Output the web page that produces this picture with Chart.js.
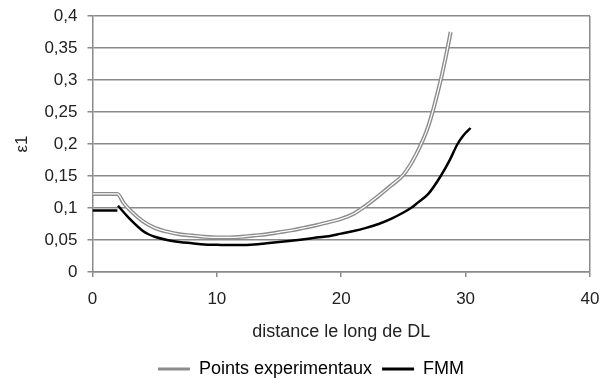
<!DOCTYPE html>
<html>
<head>
<meta charset="utf-8">
<script src="https://cdn.jsdelivr.net/npm/chart.js@4.4.0/dist/chart.umd.min.js"></script>
<style>
  html, body { margin: 0; padding: 0; background: #ffffff; }
  #wrap { width: 610px; height: 378px; }
</style>
</head>
<body>
<div id="wrap"><canvas id="c" width="610" height="378"></canvas></div>
<script>
const seriesNames = ["Points experimentaux", "FMM"];
const expX = [0, 2, 2.5, 3, 4, 5, 6, 7, 8, 9, 10, 11, 12, 13, 14, 15, 16, 17, 18, 19, 20, 21, 22, 23, 24, 25, 26, 27, 28, 28.5, 28.8];
const expY = [0.122, 0.122, 0.108, 0.097, 0.080, 0.069, 0.063, 0.059, 0.057, 0.055, 0.054, 0.054, 0.055, 0.057, 0.059, 0.062, 0.065, 0.069, 0.073, 0.078, 0.083, 0.091, 0.104, 0.119, 0.135, 0.152, 0.183, 0.228, 0.300, 0.345, 0.375];
const fmmX = [0, 2, 2, 2.05, 3, 4, 4.5, 5, 6, 7, 8, 9, 10, 11, 12, 13, 14, 15, 16, 17, 18, 19, 20, 21, 22, 23, 24, 25, 25.6, 26, 27, 28, 28.7, 29.35, 29.8, 30.4];
const fmmY = [0.096, 0.096, null, 0.1035, 0.083, 0.065, 0.059, 0.055, 0.050, 0.047, 0.045, 0.043, 0.0425, 0.042, 0.042, 0.043, 0.045, 0.047, 0.049, 0.051, 0.054, 0.056, 0.060, 0.064, 0.069, 0.075, 0.083, 0.093, 0.100, 0.106, 0.122, 0.150, 0.174, 0.200, 0.213, 0.225];
const xTicks = [0, 10, 20, 30, 40];
const yTicks = [0, 0.05, 0.1, 0.15, 0.2, 0.25, 0.3, 0.35, 0.4];

const toPts = (xs, ys) => xs.map((x, i) => ({ x: x, y: ys[i] }));
const GRID = '#8a8a8a';
const FONT = "'Liberation Sans', Arial, sans-serif";

new Chart(document.getElementById('c'), {
  type: 'line',
  data: {
    datasets: [
      { label: seriesNames[0] + '_inner', data: toPts(expX, expY), borderColor: '#ffffff', borderWidth: 1.2, pointRadius: 0, cubicInterpolationMode: 'monotone', order: 0 },
      { label: seriesNames[0], data: toPts(expX, expY), borderColor: '#8c8c8c', borderWidth: 4, pointRadius: 0, cubicInterpolationMode: 'monotone', order: 1 },
      { label: seriesNames[1], data: toPts(fmmX, fmmY), borderColor: '#000000', borderWidth: 2.5, pointRadius: 0, cubicInterpolationMode: 'monotone', spanGaps: false, order: 2 }
    ]
  },
  options: {
    responsive: false,
    animation: false,
    devicePixelRatio: 1,
    layout: { padding: { top: 0, right: 0, left: 12, bottom: -10 } },
    plugins: {
      tooltip: { enabled: false },
      legend: {
        position: 'bottom',
        labels: {
          font: { family: FONT, size: 18 },
          color: '#222',
          boxWidth: 32,
          boxHeight: 3,
          padding: 10,
          generateLabels: () => [
            { text: seriesNames[0], fillStyle: '#8c8c8c', strokeStyle: '#8c8c8c', lineWidth: 0, datasetIndex: 1 },
            { text: seriesNames[1], fillStyle: '#000000', strokeStyle: '#000000', lineWidth: 0, datasetIndex: 2 }
          ]
        }
      }
    },
    scales: {
      x: {
        type: 'linear',
        min: 0, max: 40,
        afterBuildTicks: (axis) => { axis.ticks = xTicks.map(v => ({ value: v })); },
        afterFit: (scale) => { scale.paddingRight = 20; },
        ticks: { font: { family: FONT, size: 17 }, color: '#222', padding: 12, maxRotation: 0 },
        grid: {
          color: (ctx) => (ctx.tick && ctx.tick.value === 40) ? GRID : 'rgba(0,0,0,0)',
          tickColor: GRID,
          tickLength: 5,
          lineWidth: 1.5
        },
        border: { color: GRID, width: 1.5 },
        title: { display: true, text: 'distance le long de DL', font: { family: FONT, size: 18 }, color: '#222', padding: { top: 0, bottom: 7 } }
      },
      y: {
        min: 0, max: 0.4,
        afterBuildTicks: (axis) => { axis.ticks = yTicks.map(v => ({ value: v })); },
        afterFit: (scale) => { scale.paddingTop = 16; },
        ticks: {
          font: { family: FONT, size: 17 }, color: '#222', padding: 10,
          callback: (v) => String(Math.round(v * 100) / 100).replace('.', ',')
        },
        grid: { color: GRID, tickColor: GRID, tickLength: 5, lineWidth: 1.5 },
        border: { color: GRID, width: 1.5 },
        title: { display: true, text: 'ε1', font: { family: FONT, size: 17 }, color: '#222', padding: { top: 0, bottom: 2 } }
      }
    }
  }
});
</script>
</body>
</html>
